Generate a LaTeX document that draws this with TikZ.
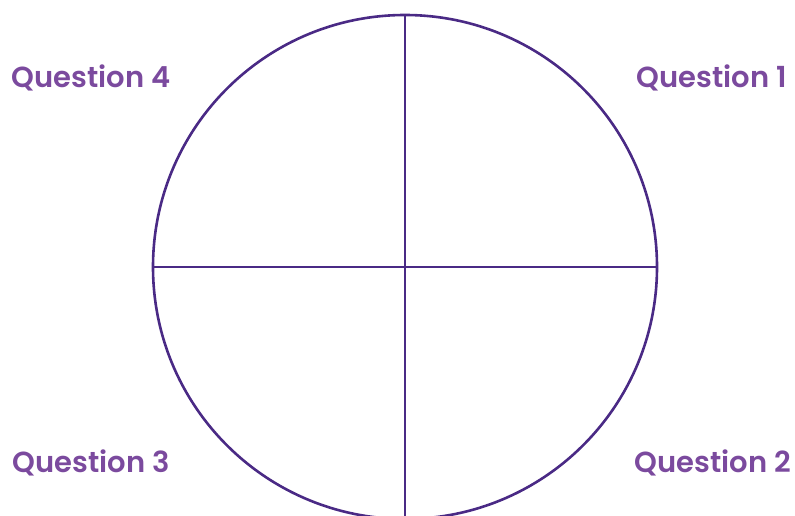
\documentclass[tikz,border=0pt]{standalone}
\usepackage{fontspec}
\setmainfont{Poppins}[BoldFont={* SemiBold}]
\definecolor{ringc}{HTML}{4A2A85}
\definecolor{textc}{HTML}{7B4A9E}
\begin{document}
\begin{tikzpicture}[x=1pt,y=-1pt,
  ring/.style={draw=ringc,line width=2.6pt},
  qlabel/.style={text=textc,font=\bfseries\fontsize{29}{33}\selectfont,inner sep=0pt,anchor=center}]
\useasboundingbox (0,0) rectangle (795,516);
\coordinate (c) at (405,267);
\draw[ring] (c) circle[radius=252];
\coordinate (top) at (405,15);
\coordinate (bot) at (405,519);
\coordinate (lft) at (153,267);
\coordinate (rgt) at (657,267);
\draw[ring] (top) -- (bot);
\draw[ring] (lft) -- (rgt);
\node[qlabel] (q4) at (91,78) {Question 4};
\node[qlabel] (q1) at (712,78) {Question 1};
\node[qlabel] (q3) at (91,463) {Question 3};
\node[qlabel] (q2) at (713,463) {Question 2};
\end{tikzpicture}
\end{document}
